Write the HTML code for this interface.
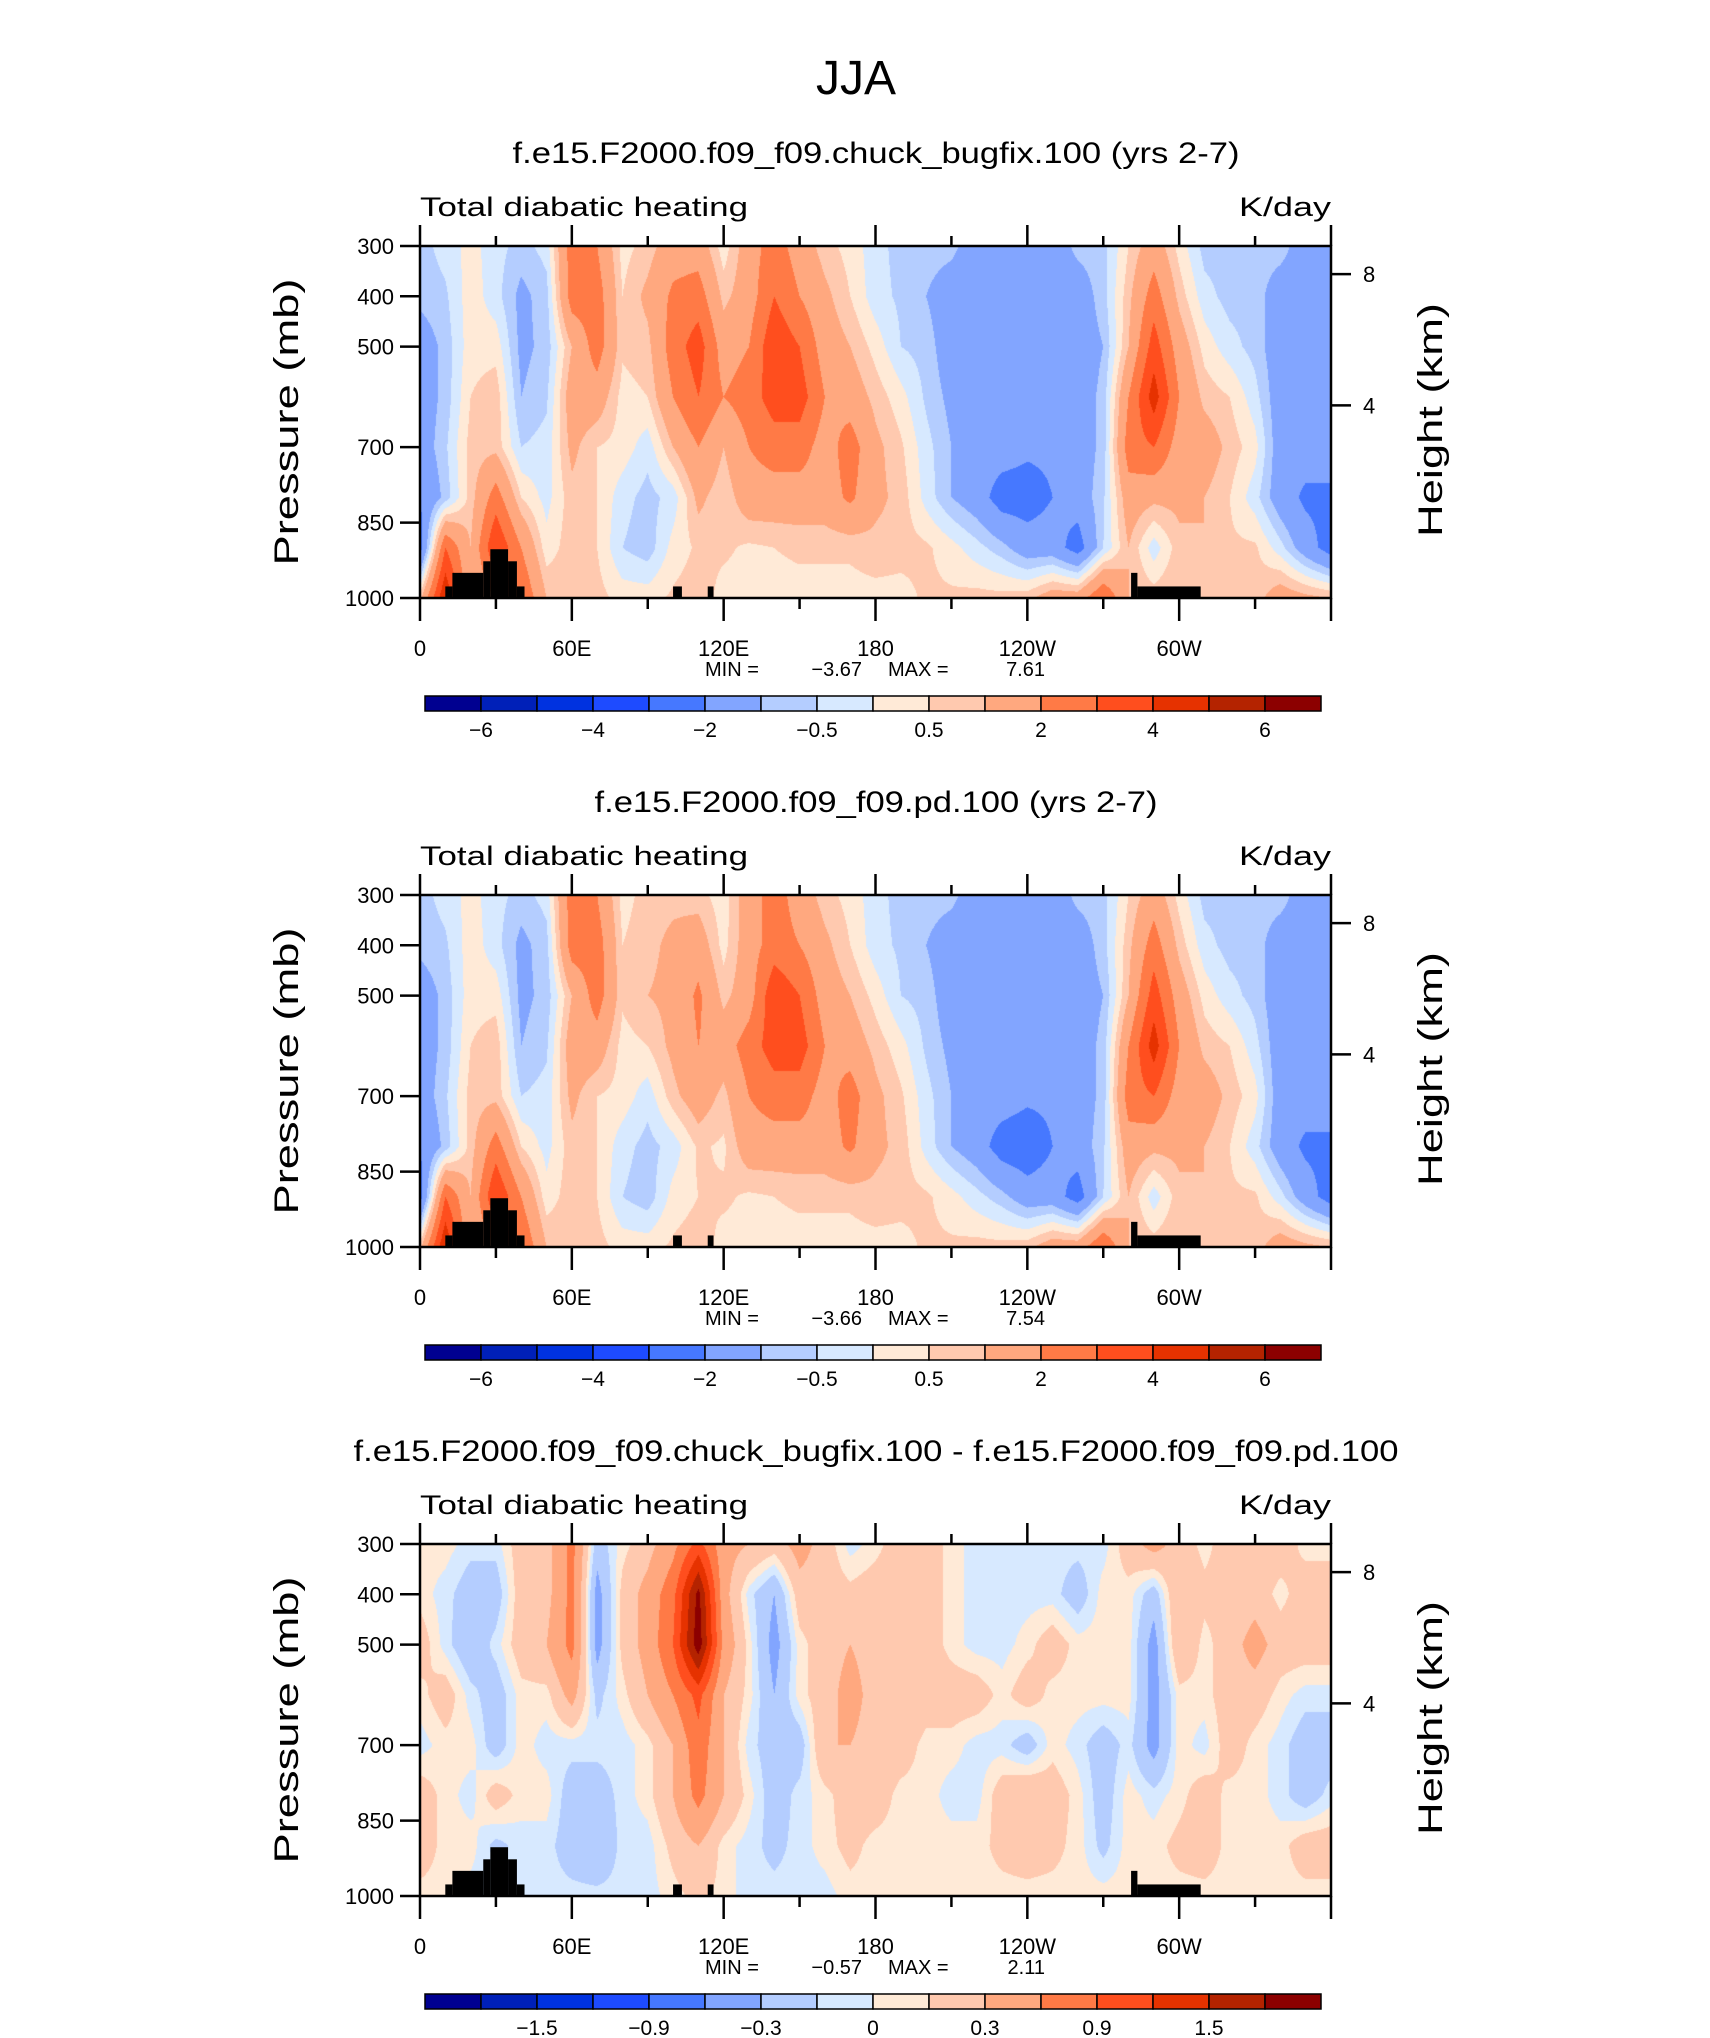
<!DOCTYPE html>
<html><head><meta charset="utf-8">
<style>
html,body{margin:0;padding:0;background:#fff;}
#wrap{position:relative;width:1710px;height:2038px;overflow:hidden;background:#fff;}
canvas{position:absolute;}
svg{position:absolute;left:0;top:0;}
text{font-family:"Liberation Sans",sans-serif;fill:#000;}
</style></head>
<body>
<div id="wrap">
<canvas id="c0" width="911" height="352" style="left:420px;top:246px"></canvas>
<canvas id="c1" width="911" height="352" style="left:420px;top:895px"></canvas>
<canvas id="c2" width="911" height="352" style="left:420px;top:1544px"></canvas>
<svg id="s" width="1710" height="2038">
<text x="856" y="94" font-size="48" text-anchor="middle" font-weight="normal">JJA</text>
</svg>
</div>
<script>
// ---- data ----
const pLevels=[300,400,500,600,700,800,900,1000];
const lonStep=10;
const levelsA=[-6,-5,-4,-3,-2,-1,-0.5,0,0.5,1,2,3,4,5,6];
const levelsD=[-1.8,-1.5,-1.2,-0.9,-0.6,-0.3,-0.1,0,0.1,0.3,0.6,0.9,1.2,1.5,1.8];
const cbLabelsA=['−6','−4','−2','−0.5','0.5','2','4','6'];
const cbLabelIdxA=[1,3,5,7,9,11,13,15];
const cbLabelsD=['−1.5','−0.9','−0.3','0','0.3','0.9','1.5'];
const cbLabelIdxD=[2,4,6,8,10,12,14];
const colors=['#000090','#0020B8','#0032E0','#1E4BFF','#4678FF','#82A5FF','#B4CDFF','#D7E9FF','#FFEAD7','#FFC9AF','#FFA87F','#FF7A46','#FF4E1E','#E63200','#B42300','#8C0000'];
const titles=['f.e15.F2000.f09_f09.chuck_bugfix.100 (yrs 2-7)','f.e15.F2000.f09_f09.pd.100 (yrs 2-7)','f.e15.F2000.f09_f09.chuck_bugfix.100 - f.e15.F2000.f09_f09.pd.100'];
const titleWidths=[727,563,1045];
const minVals=['−3.67','−3.66','−0.57'];
const maxVals=['7.61','7.54','2.11'];
const xTickLons=[0,60,120,180,240,300];
const xTickLabels=['0','60E','120E','180','120W','60W'];
const yTickP=[300,400,500,700,850,1000];
const hTickKm=[8,4];
const hTickP=[356,617];
const topoLon0=[10,12.8,25,27.8,34.8,38.3,100,113.7,281,283.5];
const topoLon1=[12.8,25,27.8,34.8,38.3,41.3,103.5,116,283.5,308.5];
const topoP=[977,950,927,903,927,977,977,977,950,977];

const f1=[
[-0.7,-0.3,0.2,-0.3,-0.7,-0.3,2.5,2,0.3,0.7,1.5,1.5,0.2,1.5,2.5,1.5,0.7,0.3,-0.3,-0.7,-0.7,-0.8,-1.5,-1.5,-1.5,-1.5,-0.8,-0.7,0.5,1.5,0.3,-0.7,-0.7,-0.7,-0.7,-1.5,-1.5],
[-0.8,-0.6,0.3,-0.3,-1.2,-0.7,2.5,2.5,0.5,1.2,2.2,2.5,0.8,1.5,3.0,2.0,1.2,0.5,-0.3,-0.6,-1.0,-1.5,-1.5,-1.5,-1.5,-1.5,-1.5,-0.7,0.8,2.5,0.8,-0.3,-0.7,-0.7,-1.5,-1.5,-1.5],
[-1.5,-0.8,0.3,0.3,-1.2,-0.8,1.0,2.5,0.6,0.8,2.5,3.5,1.5,2.0,3.8,3.0,1.5,1.0,0.3,-0.5,-0.7,-1.5,-1.5,-1.5,-1.5,-1.5,-1.5,-1.0,1.0,3.5,1.5,0.3,-0.3,-0.7,-1.5,-1.5,-1.5],
[-1.5,-0.8,0.5,0.8,-1.0,-0.6,1.5,1.5,0.3,0.5,2.0,3.0,2.0,2.5,3.5,3.5,2.0,1.5,0.8,0.2,-0.6,-1.2,-1.5,-1.5,-1.5,-1.5,-1.5,-0.8,2.0,4.5,2.0,0.8,0.5,-0.3,-1.5,-1.5,-1.5],
[-1.5,-0.6,0.7,0.8,-0.5,-0.3,1.2,0.5,0.3,-0.3,1.0,2.0,1.0,2.0,2.5,2.5,1.5,2.5,1.2,0.6,-0.3,-1.0,-1.5,-1.5,-1.8,-1.8,-1.5,-0.8,2.5,3.0,1.5,1.5,0.8,0.2,-1.5,-1.5,-1.5],
[-2.0,-0.8,0.7,2.5,0.5,-0.2,0.8,0.5,-0.3,-0.7,-0.3,1.2,0.6,1.5,1.5,1.5,1.5,2.2,1.2,0.8,-0.2,-1.0,-1.5,-2.5,-2.5,-2.0,-1.5,-0.6,1.5,1.2,1.2,1.0,0.5,-0.3,-1.5,-2.2,-2.2],
[-2.5,3.0,1.0,4.0,2.0,0.2,0.8,0.5,-0.5,-0.8,0.2,0.6,0.6,0.4,0.5,0.6,0.6,0.6,0.8,0.7,0.6,0.2,-0.3,-0.8,-1.5,-1.5,-2.5,-0.5,1.0,-0.3,0.8,1.0,0.6,0.6,-0.3,-1.5,-2.5],
[0.8,5,1,2,3,1,0.8,0.7,0.3,0.3,0.6,0.8,0.3,0.3,0.3,0.3,0.3,0.3,0.3,0.3,0.6,0.6,0.7,0.7,0.8,1.5,1.5,3.0,1.0,0.8,1.0,1.0,0.8,0.7,1.5,1.2,1.0]
];
const f2=[
[-0.7,-0.3,0.2,-0.3,-0.7,-0.3,2.5,2,0.3,0.7,0.8,0.7,0.2,1.5,2.5,1.5,0.7,0.3,-0.3,-0.7,-0.7,-0.8,-1.5,-1.5,-1.5,-1.5,-0.8,-0.7,0.5,1.5,0.3,-0.7,-0.7,-0.7,-0.7,-1.5,-1.5],
[-0.8,-0.6,0.3,-0.3,-1.2,-0.7,2.5,2.5,0.5,0.8,1.2,1.5,0.3,1.5,2.5,2.0,1.2,0.5,-0.3,-0.6,-1.0,-1.5,-1.5,-1.5,-1.5,-1.5,-1.5,-0.7,0.8,2.5,0.8,-0.3,-0.7,-0.7,-1.5,-1.5,-1.5],
[-1.5,-0.8,0.3,0.3,-1.2,-0.8,1.0,2.5,0.6,1.0,1.2,2.2,0.8,1.5,3.8,3.0,1.5,1.0,0.3,-0.5,-0.7,-1.5,-1.5,-1.5,-1.5,-1.5,-1.5,-1.0,1.0,3.5,1.5,0.3,-0.3,-0.7,-1.5,-1.5,-1.5],
[-1.5,-0.8,0.5,0.8,-1.0,-0.6,1.5,1.5,0.3,0.5,1.2,2.0,1.5,2.5,3.5,3.5,2.0,1.5,0.8,0.2,-0.6,-1.2,-1.5,-1.5,-1.5,-1.5,-1.5,-0.8,2.0,4.5,2.0,0.8,0.5,-0.3,-1.5,-1.5,-1.5],
[-1.5,-0.6,0.7,0.8,-0.5,-0.3,1.2,0.5,0.3,-0.3,0.8,1.5,0.8,2.0,2.5,2.5,1.5,2.5,1.2,0.6,-0.3,-1.0,-1.5,-1.5,-1.8,-1.8,-1.5,-0.8,2.5,3.0,1.5,1.5,0.8,0.2,-1.5,-1.5,-1.5],
[-2.0,-0.8,0.7,2.5,0.5,-0.2,0.8,0.5,-0.3,-0.7,-0.3,0.6,0.4,1.5,1.5,1.5,1.5,2.2,1.2,0.8,-0.2,-1.0,-1.5,-2.5,-2.7,-2.0,-1.5,-0.6,1.5,1.2,1.2,1.0,0.5,-0.3,-1.5,-2.2,-2.2],
[-2.5,3.0,1.0,4.0,2.0,0.2,0.8,0.5,-0.5,-0.8,0.2,0.5,0.6,0.4,0.5,0.6,0.6,0.6,0.8,0.7,0.6,0.2,-0.3,-0.8,-1.5,-1.5,-2.5,-0.5,1.0,-0.3,0.8,1.0,0.6,0.6,-0.3,-1.5,-2.5],
[0.8,5,1,2,3,1,0.8,0.7,0.3,0.3,0.6,0.8,0.3,0.3,0.3,0.3,0.3,0.3,0.3,0.3,0.6,0.6,0.7,0.7,0.8,1.5,1.5,3.0,1.0,0.8,1.0,1.0,0.8,0.7,1.5,1.2,1.0]
];
const f3=[
[0.05,0.05,-0.05,-0.05,0.2,0.2,0.7,-0.2,0.05,0.2,0.5,1.0,0.4,0.3,0.2,0.4,0.2,-0.05,0.05,0.2,0.2,0.05,-0.05,-0.05,-0.05,-0.05,-0.05,-0.05,0.2,0.4,0.2,0.05,0.2,0.2,0.2,0.05,0.05],
[0.05,-0.05,-0.2,-0.2,0.2,0.2,0.7,-0.4,0.15,0.4,0.8,1.9,0.4,-0.05,-0.3,0.2,0.2,0.15,0.2,0.2,0.2,0.05,-0.05,-0.05,-0.05,-0.05,-0.2,0.05,0.05,-0.2,0.3,0.15,0.15,0.2,0.05,0.2,0.2],
[0.2,-0.05,-0.25,-0.05,0.2,0.3,0.7,-0.4,0.15,0.4,0.9,2.0,0.5,0.05,-0.4,0.05,0.2,0.3,0.2,0.2,0.2,0.05,-0.05,-0.05,0.05,0.2,0.05,0.05,0.05,-0.4,0.3,0.05,0.2,0.4,0.2,0.2,0.2],
[0.05,0.2,-0.05,-0.2,0.05,0.05,0.4,-0.15,0.05,0.3,0.6,1.0,0.3,0.05,-0.3,0.05,0.2,0.4,0.2,0.3,0.2,0.2,0.2,0.05,0.2,0.05,0.05,0.05,0.05,-0.4,0.05,0.05,0.2,0.2,0.05,-0.05,-0.05],
[-0.05,0.05,0.05,-0.2,0.05,-0.05,-0.05,-0.05,-0.05,0.05,0.3,0.8,0.3,-0.05,-0.2,-0.2,0.3,0.3,0.2,0.2,0.05,0.05,-0.05,-0.05,-0.2,0.05,-0.05,-0.2,-0.05,-0.4,0.05,-0.05,0.2,0.05,-0.05,-0.2,-0.2],
[0.2,0.05,-0.05,0.2,0.05,0.05,-0.2,-0.2,-0.05,0.05,0.3,0.7,0.3,0.05,-0.2,-0.05,0.05,0.2,0.2,0.05,0.05,-0.05,-0.05,0.2,0.3,0.2,0.05,-0.2,0.05,-0.05,0.05,0.2,0.05,0.05,-0.05,-0.2,-0.05],
[0.2,0.05,0.05,-0.15,-0.05,-0.05,-0.2,-0.3,-0.05,-0.05,0.15,0.3,0.05,-0.05,-0.15,-0.05,0.05,0.15,0.05,0.05,0.05,0.05,0.05,0.15,0.2,0.15,0.05,-0.15,0.05,0.05,0.15,0.2,0.05,0.05,0.05,0.2,0.2],
[0.05,0.05,-0.05,-0.05,-0.05,-0.05,-0.05,-0.05,-0.05,-0.05,0.05,0.15,0.05,-0.05,-0.05,-0.05,-0.05,0.05,0.05,0.05,0.05,0.05,0.05,0.05,0.05,0.05,0.05,0.05,0.05,0.05,0.05,0.05,0.05,0.05,0.05,0.05,0.05]
];

// ---- layout ----
const L=420,W=911,H=352,TOP0=246,DY=649;
const fields=[f1,f2,f3];
const levelSets=[levelsA,levelsA,levelsD];
const cbLabelSets=[cbLabelsA,cbLabelsA,cbLabelsD];
const cbIdxSets=[cbLabelIdxA,cbLabelIdxA,cbLabelIdxD];
const NS='http://www.w3.org/2000/svg';
const svg=document.getElementById('s');
function xOf(lon){return L+lon/360*W;}
function yOf(p,T){return T+(p-300)/700*H;}
function hex(c){return [parseInt(c.substr(1,2),16),parseInt(c.substr(3,2),16),parseInt(c.substr(5,2),16)];}
const rgb=colors.map(hex);
function mk(tag,attrs,parent){const e=document.createElementNS(NS,tag);for(const k in attrs)e.setAttribute(k,attrs[k]);(parent||svg).appendChild(e);return e;}
function txt(s,attrs){const e=mk('text',attrs);e.textContent=s;return e;}

function drawField(ci,field,levels){
  const cv=document.getElementById('c'+ci);const ctx=cv.getContext('2d');
  const img=ctx.createImageData(W,H);const nx=field[0].length,ny=field.length;
  for(let y=0;y<H;y++){
    const p=300+(y+0.5)/H*700;let fj=(p-pLevels[0])/(pLevels[1]-pLevels[0]);
    let j0=Math.min(ny-2,Math.max(0,Math.floor(fj)));const ty=Math.min(1,Math.max(0,fj-j0));
    for(let x=0;x<W;x++){
      const lon=(x+0.5)/W*360;const fi=lon/lonStep;
      let i0=Math.min(nx-2,Math.floor(fi));const tx=fi-i0;
      const v=(field[j0][i0]*(1-tx)+field[j0][i0+1]*tx)*(1-ty)+(field[j0+1][i0]*(1-tx)+field[j0+1][i0+1]*tx)*ty;
      let b=0;while(b<levels.length&&v>=levels[b])b++;
      const c=rgb[b];const k=(y*W+x)*4;
      img.data[k]=c[0];img.data[k+1]=c[1];img.data[k+2]=c[2];img.data[k+3]=255;
    }
  }
  ctx.putImageData(img,0,0);
}

for(let i=0;i<3;i++){
  const T=TOP0+i*DY;
  drawField(i,fields[i],levelSets[i]);
  const g=mk('g',{});
  
  
  for(let t=0;t<topoLon0.length;t++){
    const r=mk('rect',{x:xOf(topoLon0[t]),y:yOf(topoP[t],T),width:xOf(topoLon1[t])-xOf(topoLon0[t]),height:T+H-yOf(topoP[t],T),fill:'#000'},g);
    
    
  }
  const fr=mk('rect',{x:L,y:T,width:W,height:H,fill:'none',stroke:'#000','stroke-width':2.5},g);
  
  
  for(let lon=0;lon<=360;lon+=30){
    const major=lon%60===0, x=xOf(lon);
    mk('line',{x1:x,x2:x,y1:T+H,y2:T+H+(major?23:11),stroke:'#000','stroke-width':2.5},g);
    mk('line',{x1:x,x2:x,y1:T,y2:T-(major?21:10),stroke:'#000','stroke-width':2.5},g);
  }
  for(let k=0;k<xTickLons.length;k++){
    const t=txt(xTickLabels[k],{x:xOf(xTickLons[k]),y:T+H+58,'font-size':22,'text-anchor':'middle'});
    
    
  }
  for(let k=0;k<yTickP.length;k++){
    const y=yOf(yTickP[k],T);
    mk('line',{x1:L-20,x2:L,y1:y,y2:y,stroke:'#000','stroke-width':2.5},g);
    const t=txt(String(yTickP[k]),{x:L-26,y:y+8,'font-size':22,'text-anchor':'end'});
    
    
  }
  for(let k=0;k<hTickKm.length;k++){
    const y=yOf(hTickP[k],T);
    mk('line',{x1:L+W,x2:L+W+20,y1:y,y2:y,stroke:'#000','stroke-width':2.5},g);
    const t=txt(String(hTickKm[k]),{x:L+W+32,y:y+8,'font-size':22});
    
    
  }
  const tt=txt(titles[i],{x:876,y:T-83,'font-size':30,'text-anchor':'middle',textLength:titleWidths[i],lengthAdjust:'spacingAndGlyphs'});
  
  
  const lt=txt('Total diabatic heating',{x:L,y:T-30,'font-size':27,textLength:328,lengthAdjust:'spacingAndGlyphs'});
  
  
  const rt=txt('K/day',{x:L+W,y:T-30,'font-size':27,'text-anchor':'end',textLength:92,lengthAdjust:'spacingAndGlyphs'});
  
  
  const ya=txt('Pressure (mb)',{x:0,y:0,'font-size':34,'text-anchor':'middle',textLength:287,lengthAdjust:'spacingAndGlyphs',transform:`translate(298,${T+H/2}) rotate(-90)`});
  
  
  const ha=txt('Height (km)',{x:0,y:0,'font-size':34,'text-anchor':'middle',textLength:234,lengthAdjust:'spacingAndGlyphs',transform:`translate(1442,${T+H/2-2}) rotate(-90)`});
  
  
  const mm=txt('MIN =',{x:705,y:T+H+78,'font-size':20});
  
  
  const mv=txt(minVals[i],{x:862,y:T+H+78,'font-size':20,'text-anchor':'end'});
  
  
  const xm=txt('MAX =',{x:888,y:T+H+78,'font-size':20});
  
  
  const xv=txt(maxVals[i],{x:1045,y:T+H+78,'font-size':20,'text-anchor':'end'});
  
  
  const cbY=T+450, cbX=425, cw=56;
  for(let k=0;k<16;k++){
    const r=mk('rect',{x:cbX+k*cw,y:cbY,width:cw,height:15,fill:colors[k],stroke:'#000','stroke-width':1.5},g);
    
    
  }
  const labs=cbLabelSets[i],idx=cbIdxSets[i];
  for(let k=0;k<labs.length;k++){
    const t=txt(labs[k],{x:cbX+idx[k]*cw,y:cbY+41,'font-size':21,'text-anchor':'middle'});
    
    
  }
}
</script>
</body></html>
